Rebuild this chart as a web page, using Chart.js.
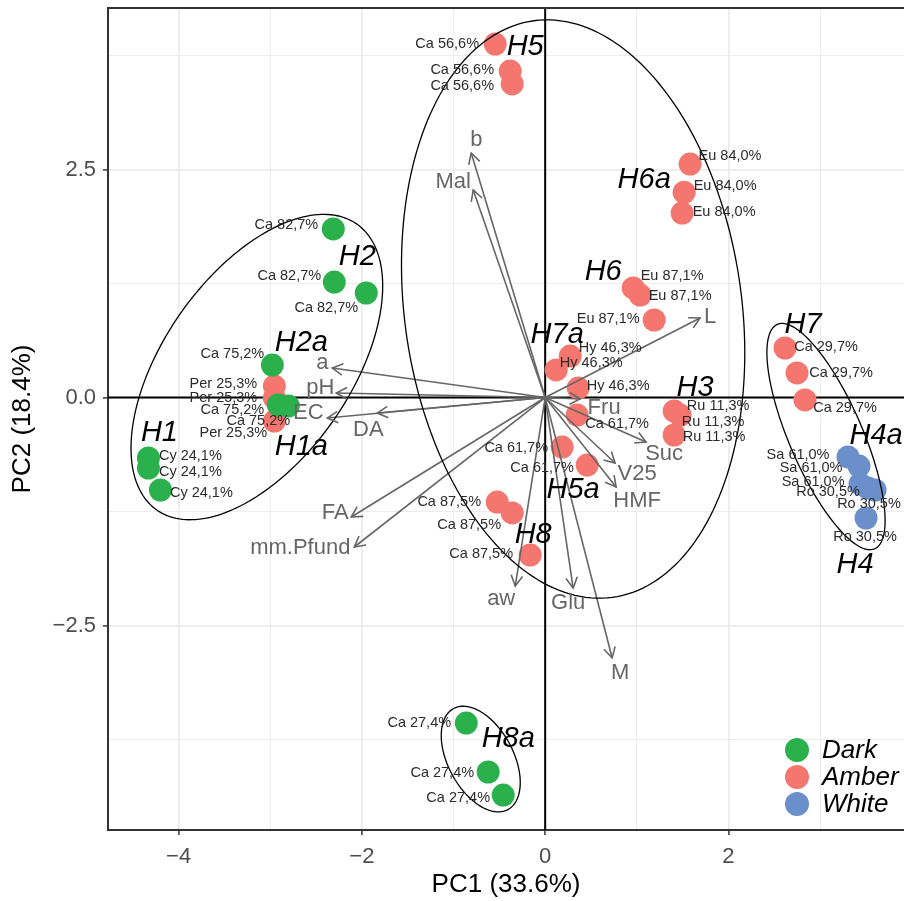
<!DOCTYPE html>
<html lang="en">
<head>
<meta charset="utf-8">
<script src="https://cdn.jsdelivr.net/npm/chart.js@4"></script>
<style>
  html, body { margin: 0; padding: 0; background: #fff; }
  #pca { display: block; }
</style>
</head>
<body>
<canvas id="pca" width="904" height="901"></canvas>
<script>
// samples (individuals), by honey colour group
const darkNames = ['Ca 82,7%', 'Ca 82,7%', 'Ca 82,7%', 'Ca 75,2%', 'Ca 75,2%', 'Ca 75,2%',
  'Cy 24,1%', 'Cy 24,1%', 'Cy 24,1%', 'Ca 27,4%', 'Ca 27,4%', 'Ca 27,4%']
const darkPC1 = [-2.312, -2.301, -1.952, -2.977, -2.912, -2.803, -4.329, -4.329, -4.198, -0.861, -0.622, -0.458]
const darkPC2 = [1.848, 1.266, 1.146, 0.356, -0.082, -0.093, -0.663, -0.773, -1.014, -3.569, -4.106, -4.359]
const darkLabelPC1 = [-2.824, -2.792, -2.388, -3.413, -3.413, -3.130, -3.871, -3.871, -3.751, -1.374, -1.123, -0.949]
const darkLabelPC2 = [1.891, 1.332, 0.981, 0.477, -0.137, -0.258, -0.641, -0.817, -1.047, -3.569, -4.117, -4.391]

const amberNames = ['Per 25,3%', 'Per 25,3%', 'Per 25,3%', 'Ca 56,6%', 'Ca 56,6%', 'Ca 56,6%',
  'Eu 84,0%', 'Eu 84,0%', 'Eu 84,0%', 'Eu 87,1%', 'Eu 87,1%', 'Eu 87,1%',
  'Hy 46,3%', 'Hy 46,3%', 'Hy 46,3%', 'Ca 61,7%', 'Ca 61,7%', 'Ca 61,7%',
  'Ru 11,3%', 'Ru 11,3%', 'Ru 11,3%', 'Ca 87,5%', 'Ca 87,5%', 'Ca 87,5%',
  'Ca 29,7%', 'Ca 29,7%', 'Ca 29,7%']
const amberPC1 = [-2.955, -2.955, -2.955, -0.545, -0.382, -0.360, 1.581, 1.516, 1.494, 0.960, 1.036, 1.189,
  0.273, 0.120, 0.360, 0.349, 0.185, 0.458, 1.407, 1.472, 1.407, -0.523, -0.360, -0.164, 2.617, 2.748, 2.835]
const amberPC2 = [0.126, -0.005, -0.258, 3.876, 3.580, 3.438, 2.560, 2.250, 2.023, 1.201, 1.124, 0.850,
  0.455, 0.302, 0.104, -0.192, -0.543, -0.740, -0.148, -0.192, -0.411, -1.146, -1.266, -1.727, 0.543, 0.269, -0.027]
const amberLabelPC1 = [-3.511, -3.511, -3.402, -1.069, -0.905, -0.905, 2.017, 1.963, 1.952, 1.385, 1.472, 0.687,
  0.709, 0.502, 0.796, 0.785, -0.316, -0.033, 1.887, 1.832, 1.843, -1.047, -0.829, -0.698, 3.064, 3.228, 3.272]
const amberLabelPC2 = [0.148, -0.005, -0.389, 3.876, 3.591, 3.416, 2.648, 2.319, 2.034, 1.332, 1.113, 0.861,
  0.543, 0.378, 0.126, -0.291, -0.554, -0.773, -0.093, -0.269, -0.433, -1.146, -1.398, -1.716, 0.554, 0.269, -0.115]

const whiteNames = ['Sa 61,0%', 'Sa 61,0%', 'Sa 61,0%', 'Ro 30,5%', 'Ro 30,5%', 'Ro 30,5%']
const whitePC1 = [3.304, 3.424, 3.435, 3.522, 3.599, 3.501]
const whitePC2 = [-0.652, -0.751, -0.948, -0.992, -1.014, -1.321]
const whiteLabelPC1 = [2.759, 2.901, 2.923, 3.086, 3.533, 3.490]
const whiteLabelPC2 = [-0.630, -0.773, -0.927, -1.036, -1.168, -1.530]

// variables (loadings)
const varNames = ['b', 'Mal', 'L', 'Fru', 'Suc', 'V25', 'HMF', 'Glu', 'aw', 'M', 'FA', 'mm.Pfund', 'DA', 'EC', 'pH', 'a']
const varPC1 = [-0.807, -0.785, 1.690, 0.382, 1.101, 0.763, 0.774, 0.305, -0.327, 0.731, -2.116, -2.083, -1.832, -2.377, -2.279, -2.323]
const varPC2 = [2.681, 2.276, 0.872, -0.016, -0.488, -0.718, -0.981, -2.089, -2.067, -2.856, -1.310, -1.639, -0.170, -0.225, 0.049, 0.323]
const varLabelPC1 = [-0.752, -1.003, 1.799, 0.643, 1.298, 1.003, 1.003, 0.251, -0.480, 0.818, -2.290, -2.672, -1.930, -2.585, -2.454, -2.432]
const varLabelPC2 = [2.823, 2.363, 0.883, -0.115, -0.619, -0.839, -1.135, -2.253, -2.210, -3.021, -1.266, -1.650, -0.356, -0.170, 0.104, 0.378]

// cluster tags
const groupTags = ['H1', 'H2', 'H2a', 'H1a', 'H5', 'H6a', 'H6', 'H7a', 'H3', 'H5a', 'H8', 'H7', 'H4a', 'H4', 'H8a']
const groupTagPC1 = [-4.209, -2.050, -2.661, -2.661, -0.218, 1.080, 0.633, 0.131, 1.636, 0.305, -0.131, 2.814, 3.610, 3.381, -0.403]
const groupTagPC2 = [-0.389, 1.541, 0.598, -0.543, 3.843, 2.385, 1.376, 0.685, 0.104, -1.014, -1.508, 0.795, -0.422, -1.836, -3.744]

// ellipses: centre, semi axes, angle of the major axis (deg)
const ellipseCx = [-3.146, 0.305, 3.064, -0.703]
const ellipseCy = [0.334, 0.970, -0.428, -3.964]
const ellipseA = [1.91, 3.19, 1.34, 0.628]
const ellipseB = [1.02, 1.84, 0.40, 0.356]
const ellipseAngle = [55.3, 97.7, 113.3, 118]

const xTicks = [-4, -3, -2, -1, 0, 1, 2, 3]
const yTicks = [-3.75, -2.5, -1.25, 0, 1.25, 2.5, 3.75]

const legendNames = ['Dark', 'Amber', 'White']
const legendColors = ['#2AB14C', '#F4766E', '#6B8FCB']

const FONT = '"Liberation Sans", Arial, Helvetica, sans-serif'
Chart.defaults.font.family = FONT

function minus(s) { return s.replace('-', '\u2212') }
function pts(xs, ys) { return xs.map((x, i) => ({ x: x, y: ys[i] })) }
function noPad(s) { s.paddingTop = 0; s.paddingBottom = 0; s.paddingLeft = 0; s.paddingRight = 0 }

const datasets = [
  { label: 'Dark', data: pts(darkPC1, darkPC2), backgroundColor: legendColors[0] },
  { label: 'Amber', data: pts(amberPC1, amberPC2), backgroundColor: legendColors[1] },
  { label: 'White', data: pts(whitePC1, whitePC2), backgroundColor: legendColors[2] },
].map(d => Object.assign(d, { pointRadius: 11.5, pointHoverRadius: 11.5, borderWidth: 0, order: 3 }))

varNames.forEach((n, i) => {
  datasets.push({
    type: 'line', label: n,
    data: [{ x: 0, y: 0 }, { x: varPC1[i], y: varPC2[i] }],
    borderColor: '#666666', borderWidth: 1.6, pointRadius: 0, fill: false, order: 1,
  })
})

const overlay = {
  id: 'overlay',
  beforeDatasetsDraw(chart) {
    const { ctx, chartArea: a, scales: { x, y } } = chart
    ctx.save()
    ctx.strokeStyle = '#000'
    ctx.lineWidth = 2
    ctx.beginPath()
    ctx.moveTo(x.getPixelForValue(0), a.top)
    ctx.lineTo(x.getPixelForValue(0), a.bottom)
    ctx.moveTo(a.left, y.getPixelForValue(0))
    ctx.lineTo(a.right, y.getPixelForValue(0))
    ctx.stroke()
    ctx.restore()
  },
  afterDatasetsDraw(chart) {
    const { ctx, chartArea: a, scales: { x, y } } = chart
    ctx.save()
    // ellipses
    ctx.strokeStyle = '#000'
    ctx.lineWidth = 1.3
    ellipseCx.forEach((cx, k) => {
      const t0 = ellipseAngle[k] * Math.PI / 180
      ctx.beginPath()
      for (let s = 0; s <= 200; s++) {
        const t = s / 200 * Math.PI * 2
        const u = ellipseA[k] * Math.cos(t), v = ellipseB[k] * Math.sin(t)
        const px = x.getPixelForValue(cx + u * Math.cos(t0) - v * Math.sin(t0))
        const py = y.getPixelForValue(ellipseCy[k] + u * Math.sin(t0) + v * Math.cos(t0))
        if (s === 0) ctx.moveTo(px, py); else ctx.lineTo(px, py)
      }
      ctx.closePath()
      ctx.stroke()
    })
    // arrow heads
    ctx.strokeStyle = '#666666'
    ctx.lineWidth = 1.6
    const ox = x.getPixelForValue(0), oy = y.getPixelForValue(0)
    varNames.forEach((n, i) => {
      const tx = x.getPixelForValue(varPC1[i]), ty = y.getPixelForValue(varPC2[i])
      const ang = Math.atan2(ty - oy, tx - ox)
      ctx.beginPath()
      ctx.moveTo(tx - 12 * Math.cos(ang - 0.5), ty - 12 * Math.sin(ang - 0.5))
      ctx.lineTo(tx, ty)
      ctx.lineTo(tx - 12 * Math.cos(ang + 0.5), ty - 12 * Math.sin(ang + 0.5))
      ctx.stroke()
    })
    ctx.textAlign = 'center'
    ctx.textBaseline = 'middle'
    ctx.fillStyle = '#666666'
    ctx.font = '22px ' + FONT
    varNames.forEach((n, i) => {
      ctx.fillText(n, x.getPixelForValue(varLabelPC1[i]), y.getPixelForValue(varLabelPC2[i]))
    })
    // sample labels
    ctx.fillStyle = '#2b2b2b'
    ctx.font = '14.5px ' + FONT
    const lab = (names, lx, ly) => names.forEach((n, i) =>
      ctx.fillText(n, x.getPixelForValue(lx[i]), y.getPixelForValue(ly[i])))
    lab(darkNames, darkLabelPC1, darkLabelPC2)
    lab(amberNames, amberLabelPC1, amberLabelPC2)
    lab(whiteNames, whiteLabelPC1, whiteLabelPC2)
    // cluster tags
    ctx.fillStyle = '#000'
    ctx.font = 'italic 29px ' + FONT
    groupTags.forEach((g, i) => {
      ctx.fillText(g, x.getPixelForValue(groupTagPC1[i]), y.getPixelForValue(groupTagPC2[i]))
    })
    // legend
    ctx.textAlign = 'left'
    ctx.font = 'italic 26px ' + FONT
    legendNames.forEach((n, i) => {
      const ly = a.bottom - 80 + i * 27
      ctx.fillStyle = legendColors[i]
      ctx.beginPath()
      ctx.arc(a.right - 107, ly, 12, 0, Math.PI * 2)
      ctx.fill()
      ctx.fillStyle = '#000'
      ctx.fillText(n, a.right - 82, ly + 1)
    })
    // top border
    ctx.strokeStyle = '#333333'
    ctx.lineWidth = 2
    ctx.beginPath()
    ctx.moveTo(a.left - 1, a.top)
    ctx.lineTo(a.right + 2, a.top)
    ctx.stroke()
    ctx.restore()
  }
}

const isMajorX = v => Math.abs(v % 2) < 1e-6
const isMajorY = v => Math.abs(v % 2.5) < 1e-6

new Chart(document.getElementById('pca'), {
  type: 'scatter',
  data: { datasets: datasets },
  options: {
    responsive: false,
    animation: false,
    layout: { autoPadding: false, padding: { top: 8, left: 0, right: 0, bottom: 0 } },
    plugins: { legend: { display: false }, tooltip: { enabled: false } },
    scales: {
      x: {
        type: 'linear', min: -4.77, max: 3.915,
        afterBuildTicks: s => { s.ticks = xTicks.map(v => ({ value: v })) },
        afterFit: s => { s.height = 71; noPad(s) },
        grid: {
          color: '#EBEBEB',
          lineWidth: c => isMajorX(c.tick.value) ? 1.8 : 0.9,
          tickColor: c => isMajorX(c.tick.value) ? '#333333' : 'rgba(0,0,0,0)',
          tickLength: 5, tickWidth: 1.5,
        },
        border: { display: true, color: '#333333', width: 2 },
        ticks: {
          autoSkip: false, maxRotation: 0, padding: 9,
          color: '#4D4D4D', font: { size: 22 },
          callback: v => isMajorX(v) ? minus(String(v)) : '',
        },
        title: { display: true, text: 'PC1 (33.6%)', color: '#000', font: { size: 26 }, padding: { top: 0, bottom: 1 } },
      },
      y: {
        type: 'linear', min: -4.742, max: 4.271,
        afterBuildTicks: s => { s.ticks = yTicks.map(v => ({ value: v })) },
        afterFit: s => { s.width = 108; noPad(s) },
        grid: {
          color: '#EBEBEB',
          lineWidth: c => isMajorY(c.tick.value) ? 1.8 : 0.9,
          tickColor: c => isMajorY(c.tick.value) ? '#333333' : 'rgba(0,0,0,0)',
          tickLength: 5, tickWidth: 1.5,
        },
        border: { display: true, color: '#333333', width: 2 },
        ticks: {
          autoSkip: false, padding: 7,
          color: '#4D4D4D', font: { size: 22 },
          callback: v => isMajorY(v) ? minus(v.toFixed(1)) : '',
        },
        title: { display: true, text: 'PC2 (18.4%)', color: '#000', font: { size: 26 }, padding: { top: 7, bottom: 0 } },
      },
    },
  },
  plugins: [overlay],
})
</script>
</body>
</html>
